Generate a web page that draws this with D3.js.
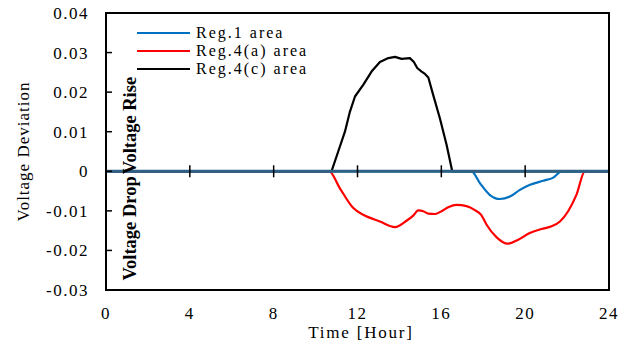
<!DOCTYPE html>
<html>
<head>
<meta charset="utf-8">
<script src="https://cdn.jsdelivr.net/npm/d3@7/dist/d3.min.js"></script>
<style>
  body { margin: 0; background: #fff; }
  text { font-family: "Liberation Serif", "Times New Roman", serif; fill: #000; }
</style>
</head>
<body>
<div id="chart"></div>
<script>
// hours / deviation
const reg1Hours = [0, 17.44, 17.84, 18.32, 18.8, 19.27, 19.75, 20.23, 20.86, 21.34, 21.74, 24];
const reg1Values = [0, 0, -0.003, -0.006, -0.007, -0.0064, -0.0047, -0.0034, -0.0024, -0.0016, 0, 0];

const reg4aHours = [0, 10.65, 11.16, 11.8, 12.28, 13.07, 13.79, 14.34, 14.66, 14.9, 15.14, 15.38, 15.7, 16.01, 16.33, 16.73, 17.2, 17.6, 17.9, 18.16, 18.64, 19.16, 19.67, 20.22, 20.78, 21.26, 21.66, 22.05, 22.45, 22.85, 24];
const reg4aValues = [0, 0, -0.0043, -0.0093, -0.011, -0.0127, -0.0141, -0.0125, -0.0112, -0.0099, -0.0101, -0.0107, -0.0108, -0.0101, -0.0091, -0.0085, -0.0088, -0.0098, -0.011, -0.0135, -0.0167, -0.0183, -0.0173, -0.0156, -0.0146, -0.0139, -0.0127, -0.0101, -0.0059, 0, 0];

const reg4cHours = [0, 10.76, 11.08, 11.4, 11.64, 11.88, 12.28, 12.67, 13.07, 13.47, 13.79, 14.1, 14.5, 14.69, 14.85, 15.06, 15.22, 15.38, 15.61, 15.93, 16.25, 16.52, 24];
const reg4cValues = [0, 0, 0.005, 0.01, 0.0151, 0.0189, 0.0219, 0.0252, 0.0276, 0.0286, 0.0289, 0.0284, 0.0286, 0.0276, 0.0261, 0.0252, 0.0246, 0.0237, 0.0193, 0.0134, 0.0067, 0, 0];

const seriesNames = ['Reg.1 area', 'Reg.4(a) area', 'Reg.4(c) area'];
const seriesColors = ['#0070c0', '#ff0000', '#000000'];

const xTicks = [0, 4, 8, 12, 16, 20, 24];
const yTicks = [0.04, 0.03, 0.02, 0.01, 0, -0.01, -0.02, -0.03];

const width = 634, height = 347;
const margin = { left: 106, right: 25, top: 13, bottom: 57 };

const svg = d3.select('#chart').append('svg')
  .attr('width', width)
  .attr('height', height);

const x = d3.scaleLinear().domain([0, 24]).range([margin.left, width - margin.right]);
const y = d3.scaleLinear().domain([-0.03, 0.04]).range([height - margin.bottom, margin.top]);

const series = [
  { name: seriesNames[2], color: seriesColors[2], pts: d3.zip(reg4cHours, reg4cValues), curve: d3.curveLinear },
  { name: seriesNames[1], color: seriesColors[1], pts: d3.zip(reg4aHours, reg4aValues), curve: d3.curveMonotoneX },
  { name: seriesNames[0], color: seriesColors[0], pts: d3.zip(reg1Hours, reg1Values), curve: d3.curveMonotoneX },
];

series.forEach(s => {
  const line = d3.line().x(d => x(d[0])).y(d => y(d[1])).curve(s.curve);
  svg.append('path')
    .attr('d', line(s.pts))
    .attr('fill', 'none')
    .attr('stroke', s.color)
    .attr('stroke-width', 2.2)
    .attr('stroke-linejoin', 'round');
});

// zero line where the series overlap
svg.append('line')
  .attr('x1', x(0)).attr('x2', x(24))
  .attr('y1', y(0)).attr('y2', y(0))
  .attr('stroke', '#2f6184')
  .attr('stroke-width', 3);

// frame
svg.append('rect')
  .attr('x', x(0)).attr('y', y(0.04))
  .attr('width', x(24) - x(0)).attr('height', y(-0.03) - y(0.04))
  .attr('fill', 'none')
  .attr('stroke', '#000')
  .attr('stroke-width', 2);

// x ticks cross the zero line
svg.selectAll('line.xt')
  .data(xTicks.slice(1, -1))
  .enter().append('line')
  .attr('class', 'xt')
  .attr('x1', d => x(d)).attr('x2', d => x(d))
  .attr('y1', y(0) - 6).attr('y2', y(0) + 6)
  .attr('stroke', '#000')
  .attr('stroke-width', 1.5);

svg.selectAll('text.xl')
  .data(xTicks)
  .enter().append('text')
  .attr('class', 'xl')
  .attr('x', d => x(d))
  .attr('y', 319)
  .attr('text-anchor', 'middle')
  .style('font-size', '17px')
  .style('letter-spacing', '1.5px')
  .text(d => d);

// y ticks inward
svg.selectAll('line.yt')
  .data(yTicks.slice(1, -1))
  .enter().append('line')
  .attr('class', 'yt')
  .attr('x1', x(0)).attr('x2', x(0) + 6)
  .attr('y1', d => y(d)).attr('y2', d => y(d))
  .attr('stroke', '#000')
  .attr('stroke-width', 1.5);

svg.selectAll('text.yl')
  .data(yTicks)
  .enter().append('text')
  .attr('class', 'yl')
  .attr('x', 89)
  .attr('y', d => y(d))
  .attr('dy', '0.35em')
  .attr('text-anchor', 'end')
  .style('font-size', '17px')
  .style('letter-spacing', '1.5px')
  .text(d => d);

// axis titles
svg.append('text')
  .attr('transform', `translate(29,${(y(0.04) + y(-0.03)) / 2}) rotate(-90)`)
  .attr('text-anchor', 'middle')
  .style('font-size', '17px')
  .style('letter-spacing', '1px')
  .text('Voltage Deviation');

svg.append('text')
  .attr('x', 361).attr('y', 338)
  .attr('text-anchor', 'middle')
  .style('font-size', '17px')
  .style('letter-spacing', '1.8px')
  .text('Time [Hour]');

svg.append('text')
  .attr('transform', `translate(136,${y(0) + 3}) rotate(-90)`)
  .attr('text-anchor', 'start')
  .style('font-size', '18.5px')
  .style('font-weight', 'bold')
  .text('Voltage Rise');

svg.append('text')
  .attr('transform', `translate(136,${y(0) + 5}) rotate(-90)`)
  .attr('text-anchor', 'end')
  .style('font-size', '18.5px')
  .style('font-weight', 'bold')
  .text('Voltage Drop');

// legend
const legend = svg.append('g');
seriesNames.forEach((n, i) => {
  const ly = 33 + i * 18;
  legend.append('line')
    .attr('x1', 137).attr('x2', 190)
    .attr('y1', ly).attr('y2', ly)
    .attr('stroke', seriesColors[i])
    .attr('stroke-width', 2.2);
  legend.append('text')
    .attr('x', 196).attr('y', ly)
    .attr('dy', '0.33em')
    .style('font-size', '16px')
    .style('letter-spacing', '2px')
    .text(n);
});
</script>
</body>
</html>
